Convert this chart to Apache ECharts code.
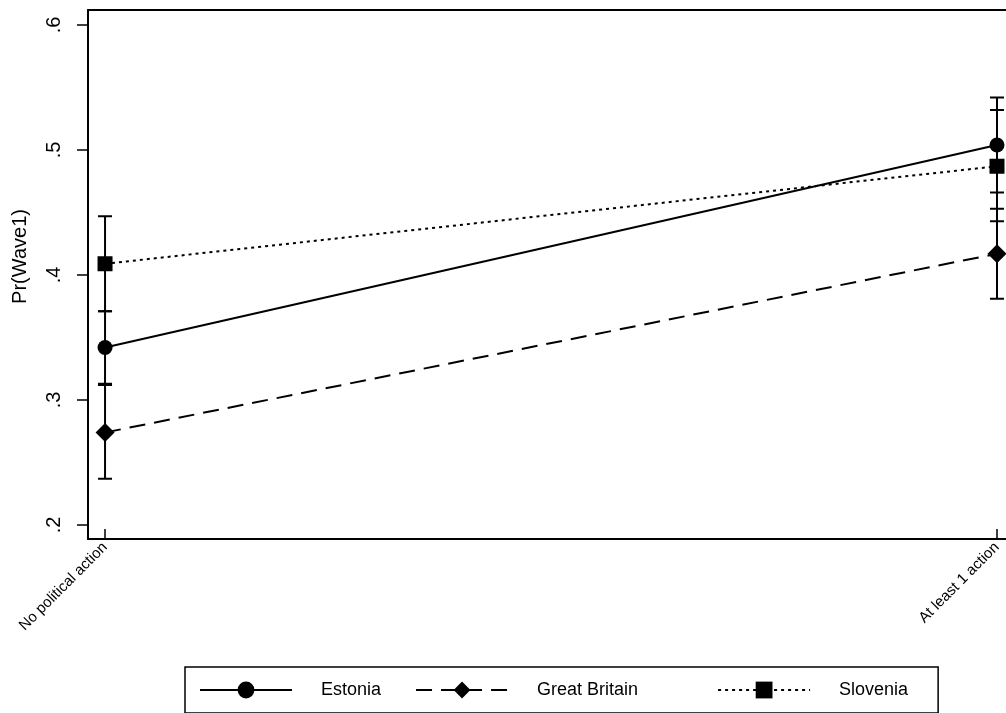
<!DOCTYPE html>
<html>
<head>
<meta charset="utf-8">
<script src="https://cdn.jsdelivr.net/npm/echarts@6/dist/echarts.min.js"></script>
<style>html,body{margin:0;padding:0;background:#fff;}#c{width:1006px;height:713px;}</style>
</head>
<body>
<div id="c"></div>
<script>
const categories = ['No political action', 'At least 1 action'];
const yTicks = [0.2, 0.3, 0.4, 0.5, 0.6];
const yTickLabels = ['.2', '.3', '.4', '.5', '.6'];

const estonia = [0.342, 0.504];
const estoniaLo = [0.313, 0.466];
const estoniaHi = [0.371, 0.542];

const britain = [0.274, 0.417];
const britainLo = [0.237, 0.381];
const britainHi = [0.312, 0.453];

const slovenia = [0.409, 0.487];
const sloveniaLo = [0.371, 0.443];
const sloveniaHi = [0.447, 0.532];

const pts = v => v.map((y, i) => [i, y]);
const bars = (lo, hi) => lo.map((l, i) => [i, l, hi[i]]);

function errRender(params, api) {
  const x = api.value(0);
  const p1 = api.coord([x, api.value(1)]);
  const p2 = api.coord([x, api.value(2)]);
  const hw = 7;
  const st = { stroke: '#000', lineWidth: 2 };
  return {
    type: 'group',
    children: [
      { type: 'line', shape: { x1: p1[0], y1: p1[1], x2: p2[0], y2: p2[1] }, style: st },
      { type: 'line', shape: { x1: p1[0] - hw, y1: p1[1], x2: p1[0] + hw, y2: p1[1] }, style: st },
      { type: 'line', shape: { x1: p2[0] - hw, y1: p2[1], x2: p2[0] + hw, y2: p2[1] }, style: st }
    ]
  };
}

const chart = echarts.init(document.getElementById('c'));
const font = 'Liberation Sans, Arial, sans-serif';
chart.setOption({
  animation: false,
  backgroundColor: '#fff',
  textStyle: { fontFamily: font, color: '#000' },
  grid: { left: 88, right: 0, top: 10, bottom: 174 },
  xAxis: [{
    type: 'value', min: -0.0191, max: 1.0101,
    axisLine: { show: true, onZero: false, lineStyle: { color: '#000', width: 2 } },
    axisTick: { show: true, inside: true, length: 10, customValues: [0, 1], lineStyle: { color: '#000', width: 1.5 } },
    axisLabel: { show: true, customValues: [0, 1], rotate: 45, margin: 6, fontSize: 15, color: '#000', fontFamily: font,
      formatter: v => categories[Math.round(v)] },
    splitLine: { show: false }
  }, {
    type: 'value', position: 'top', min: -0.0191, max: 1.0101,
    axisLine: { show: true, onZero: false, lineStyle: { color: '#000', width: 2 } },
    axisTick: { show: false }, axisLabel: { show: false }, splitLine: { show: false }
  }],
  yAxis: {
    type: 'value', min: 0.1888, max: 0.612,
    name: 'Pr(Wave1)', nameLocation: 'middle', nameGap: 58, nameRotate: 90,
    nameTextStyle: { fontSize: 20, color: '#000', fontFamily: font, padding: [0, 0, 0, 36] },
    axisLine: { show: true, onZero: false, lineStyle: { color: '#000', width: 2 } },
    axisTick: { show: true, length: 11, customValues: yTicks, lineStyle: { color: '#000', width: 1.5 } },
    axisLabel: { show: true, customValues: yTicks, rotate: 90, margin: 24, fontSize: 20, color: '#000', fontFamily: font,
      formatter: v => { const i = yTicks.findIndex(t => Math.abs(t - v) < 1e-6); return i >= 0 ? yTickLabels[i] : ''; } },
    splitLine: { show: false }
  },
  legend: {
    bottom: 0, left: 185,
    padding: [14, 30, 14, 14],
    borderColor: '#000', borderWidth: 1.5,
    itemWidth: 92, itemHeight: 21, itemGap: 34,
    textStyle: { fontSize: 18, color: '#000', fontFamily: font, padding: [0, 0, 0, 24] },
    formatter: name => name === 'Great Britain' ? name + '\u00a0\u00a0\u00a0\u00a0\u00a0\u00a0\u00a0\u00a0\u00a0' : name,
    data: ['Estonia', 'Great Britain', 'Slovenia']
  },
  series: [
    { name: 'Estonia', type: 'line', data: pts(estonia), symbol: 'circle', symbolSize: 15,
      itemStyle: { color: '#000' }, lineStyle: { color: '#000', width: 2, type: 'solid' }, z: 3 },
    { name: 'Great Britain', type: 'line', data: pts(britain), symbol: 'diamond', symbolSize: 19,
      itemStyle: { color: '#000' }, lineStyle: { color: '#000', width: 2, type: [16, 9] }, z: 3 },
    { name: 'Slovenia', type: 'line', data: pts(slovenia), symbol: 'rect', symbolSize: 15,
      itemStyle: { color: '#000' }, lineStyle: { color: '#000', width: 2, type: [3, 4] }, z: 3 },
    { type: 'custom', renderItem: errRender, data: bars(estoniaLo, estoniaHi), z: 2 },
    { type: 'custom', renderItem: errRender, data: bars(britainLo, britainHi), z: 2 },
    { type: 'custom', renderItem: errRender, data: bars(sloveniaLo, sloveniaHi), z: 2 }
  ]
});
</script>
</body>
</html>
